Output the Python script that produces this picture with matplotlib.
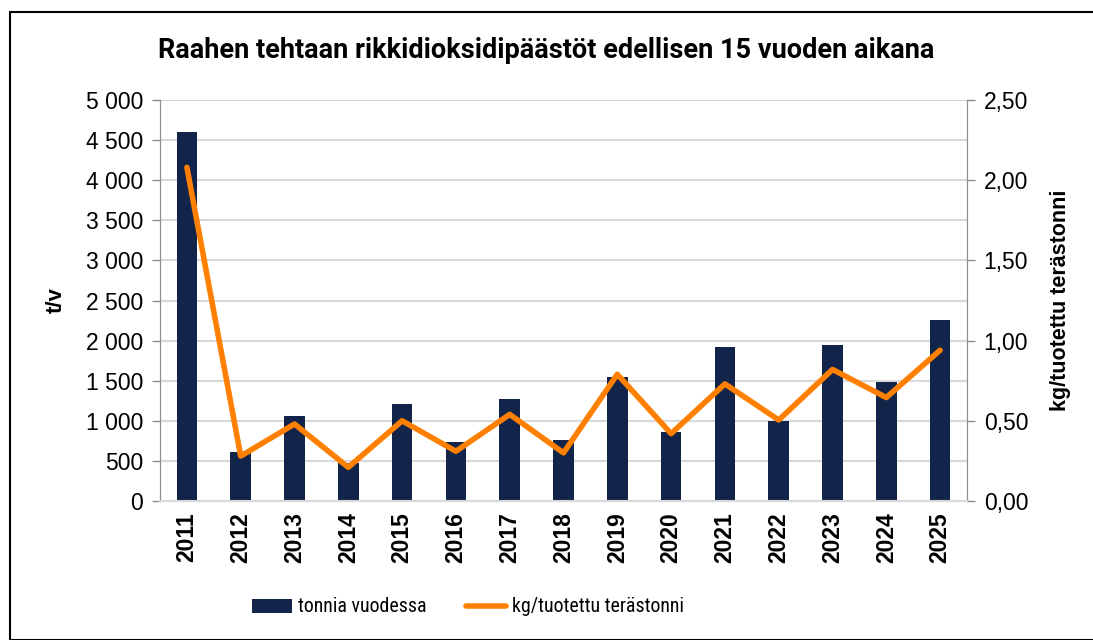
import matplotlib.pyplot as plt
from matplotlib.ticker import FuncFormatter, MultipleLocator
from matplotlib.patches import Rectangle

plt.rcParams['font.family'] = ['Liberation Sans', 'DejaVu Sans']
narrow = ['Roboto Condensed', 'Liberation Sans Narrow', 'Roboto', 'DejaVu Sans']

vuodet = ["2011", "2012", "2013", "2014", "2015", "2016", "2017", "2018",
          "2019", "2020", "2021", "2022", "2023", "2024", "2025"]
tonnia = [4605, 615, 1060, 470, 1205, 740, 1268, 757,
          1542, 857, 1916, 998, 1945, 1484, 2253]
kg_per_t = [2.08, 0.28, 0.48, 0.21, 0.50, 0.31, 0.54, 0.30,
            0.79, 0.42, 0.73, 0.505, 0.82, 0.645, 0.94]

navy = "#12244a"
orange = "#ff8000"
grid = "#d9d9d9"
spine = "#8c8c8c"

fig = plt.figure(figsize=(10.93, 6.4), dpi=100)
ax = fig.add_axes([160/1093, 1 - 501/640, (967-160)/1093, (501-100)/640])
ax2 = ax.twinx()

x = list(range(len(vuodet)))
ax.bar(x, tonnia, width=0.38, color=navy, label="tonnia vuodessa", zorder=3)
ax2.plot(x, kg_per_t, color=orange, lw=4, solid_capstyle="round",
         label="kg/tuotettu terästonni", zorder=4)

ax.set_xlim(-0.5, len(vuodet) - 0.5)
ax.set_ylim(0, 5000)
ax2.set_ylim(0, 2.5)
ax.yaxis.set_major_locator(MultipleLocator(500))
ax2.yaxis.set_major_locator(MultipleLocator(0.5))
ax.yaxis.set_major_formatter(FuncFormatter(lambda v, p: f"{int(v):,}".replace(",", " ")))
ax2.yaxis.set_major_formatter(FuncFormatter(lambda v, p: f"{v:.2f}".replace(".", ",")))

ax.grid(axis="y", color=grid, lw=1.5, zorder=0)
ax.set_axisbelow(True)
ax.set_xticks(x)
ax.set_xticklabels(vuodet, rotation=90, fontsize=16.5, fontweight="bold")
ax.tick_params(axis="x", length=0, pad=8)
ax.tick_params(axis="y", labelsize=16.5, length=6, color=spine, width=1, pad=6)
ax2.tick_params(axis="y", labelsize=16.5, length=6, color=spine, width=1, pad=6)

for a in (ax, ax2):
    a.spines["top"].set_visible(False)
    a.spines["left"].set_color(spine)
    a.spines["right"].set_color(spine)
    a.spines["bottom"].set_color(grid)
    a.spines["bottom"].set_linewidth(1.5)

ax.set_ylabel("t/v", fontsize=16, fontweight="bold", labelpad=14)
ax2.set_ylabel("kg/tuotettu terästonni", fontsize=15.5, fontweight="bold", labelpad=16)

fig.text(0.5, 1 - 50/640, "Raahen tehtaan rikkidioksidipäästöt edellisen 15 vuoden aikana",
         ha="center", va="center", fontsize=19.5, fontweight="bold",
         family=['Roboto', 'DejaVu Sans'])

h1, l1 = ax.get_legend_handles_labels()
h2, l2 = ax2.get_legend_handles_labels()
fig.legend(h1 + h2, l1 + l2, loc="center", bbox_to_anchor=(468/1093, 1 - 607/640),
           ncol=2, frameon=False, prop={"family": narrow, "size": 14.3},
           handlelength=2.0, columnspacing=2.0, handletextpad=0.3)

fig.patches.append(Rectangle((10/1093, 0), 1, 1 - 12/640, transform=fig.transFigure,
                             fill=False, edgecolor="black", lw=1.5))

fig.savefig("out.png", dpi=100)
